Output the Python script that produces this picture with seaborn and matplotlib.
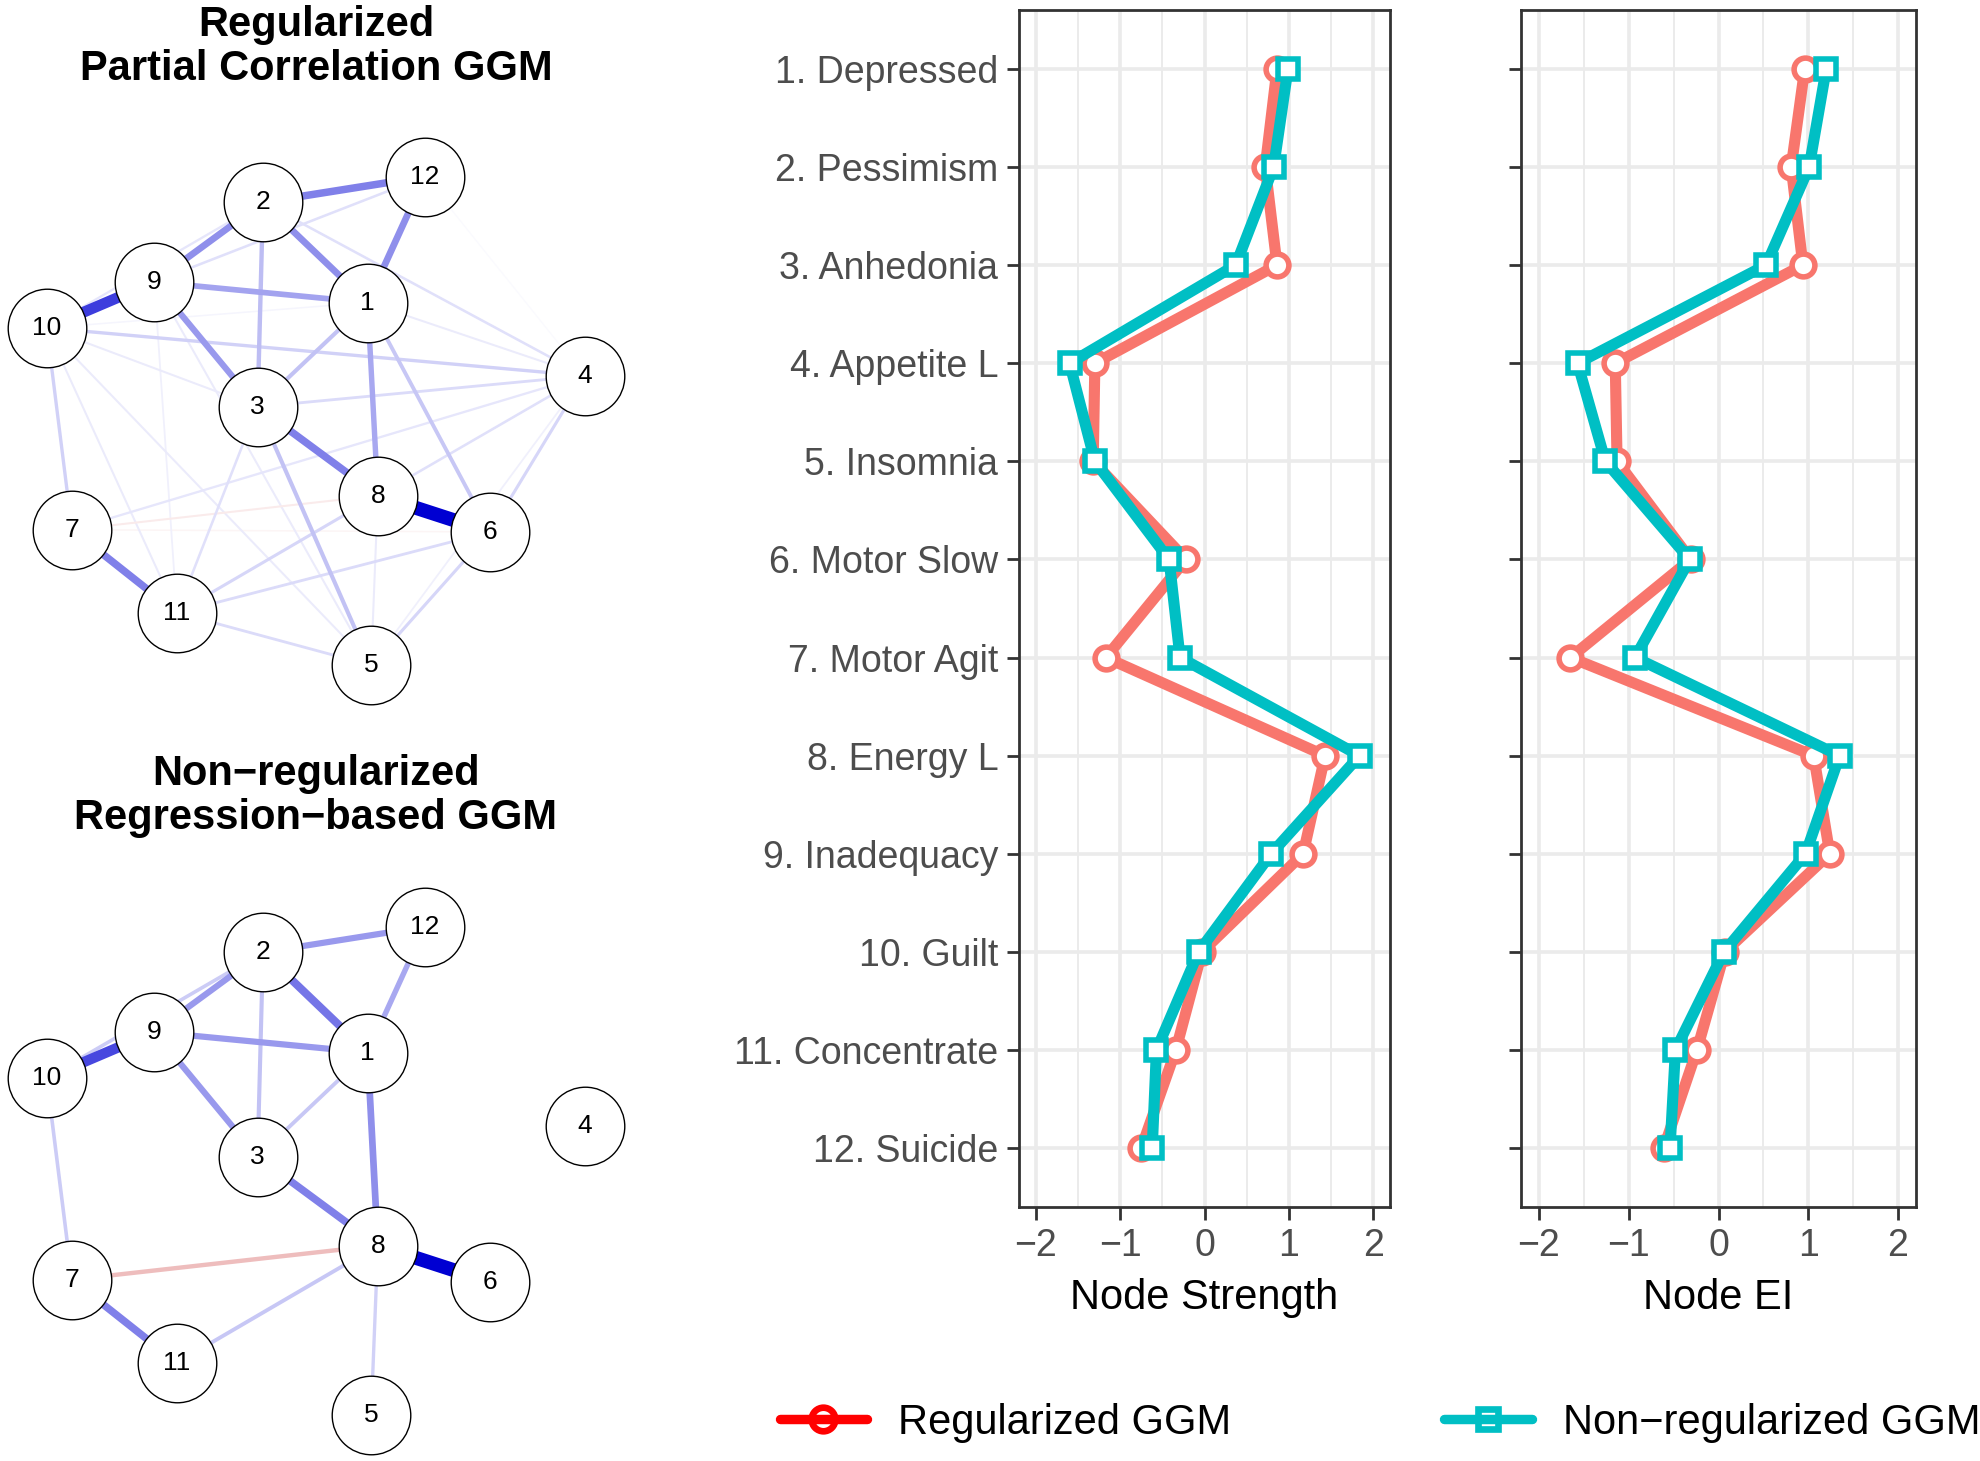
import numpy as np
import pandas as pd
import matplotlib
matplotlib.use("Agg")
import matplotlib.pyplot as plt
from matplotlib.lines import Line2D
from matplotlib.legend_handler import HandlerTuple
import seaborn as sns

# ---------------- data ----------------
symptoms = ["1. Depressed", "2. Pessimism", "3. Anhedonia", "4. Appetite L",
            "5. Insomnia", "6. Motor Slow", "7. Motor Agit", "8. Energy L",
            "9. Inadequacy", "10. Guilt", "11. Concentrate", "12. Suicide"]
model_labels = ["Regularized GGM", "Non\u2212regularized GGM"]

strength_reg = [0.86, 0.72, 0.86, -1.30, -1.32, -0.22, -1.17, 1.43, 1.17, -0.03, -0.34, -0.75]
strength_non = [0.99, 0.82, 0.37, -1.60, -1.30, -0.42, -0.29, 1.84, 0.79, -0.07, -0.57, -0.62]
ei_reg = [0.96, 0.81, 0.94, -1.15, -1.13, -0.31, -1.65, 1.06, 1.24, 0.07, -0.24, -0.61]
ei_non = [1.20, 1.01, 0.53, -1.57, -1.26, -0.32, -0.93, 1.35, 0.97, 0.06, -0.48, -0.54]
x_ticks = [-2, -1, 0, 1, 2]

# network layout (shared by both graphs), nodes 1..12
node_ids = list(range(1, 13))
layout_x = [0.193, -0.196, -0.216, 1.000, 0.206, 0.648, -0.906, 0.231, -0.600, -1.000, -0.516, 0.406]
layout_y = [0.485, 0.895, 0.058, 0.185, -1.000, -0.454, -0.445, -0.305, 0.569, 0.381, -0.785, 1.000]

# regularized partial correlation network edges
reg_from = [8, 10, 2, 12, 2, 9, 9, 9, 3, 7, 1, 2, 1, 1, 3, 10, 3, 4, 6, 2, 1, 12, 4, 4,
            11, 11, 11, 11, 11, 10, 10, 10, 10, 8, 7, 7, 12, 10, 10, 4, 9]
reg_to = [6, 9, 12, 1, 1, 2, 1, 3, 8, 11, 8, 3, 3, 6, 5, 4, 4, 6, 5, 4, 4, 4, 8, 7,
          6, 8, 5, 3, 9, 7, 11, 5, 3, 5, 8, 6, 9, 2, 1, 5, 5]
reg_w = [0.50, 0.38, 0.25, 0.22, 0.22, 0.22, 0.18, 0.20, 0.25, 0.25, 0.17, 0.13, 0.12,
         0.11, 0.12, 0.09, 0.07, 0.08, 0.08, 0.06, 0.04, 0.01, 0.06, 0.05,
         0.07, 0.08, 0.07, 0.06, 0.03, 0.09, 0.04, 0.04, 0.04, 0.04, -0.04, -0.02,
         0.06, 0.05, 0.02, 0.03, 0.04]

# non-regularized regression-based network edges
non_from = [8, 10, 2, 2, 12, 9, 10, 9, 9, 2, 1, 1, 3, 7, 10, 7, 11, 8]
non_to = [6, 9, 1, 12, 1, 2, 2, 1, 3, 3, 3, 8, 8, 11, 7, 8, 8, 5]
non_w = [0.50, 0.36, 0.27, 0.20, 0.17, 0.20, 0.10, 0.20, 0.20, 0.12, 0.11, 0.22, 0.25,
         0.25, 0.10, -0.13, 0.11, 0.09]

# ---------------- style ----------------
sns.set_style("white")
plt.rcParams["font.family"] = ["Liberation Sans", "DejaVu Sans"]
plt.rcParams["text.color"] = "black"

W, H, DPI = 1980, 1461, 200
PT = DPI / 72.0
fig = plt.figure(figsize=(W / DPI, H / DPI), dpi=DPI)
fig.patch.set_facecolor("white")


def px_axes(x0, y0, x1, y1):
    return fig.add_axes([x0 / W, 1 - y1 / H, (x1 - x0) / W, (y1 - y0) / H])


RED = "#F8766D"
TEAL = "#00BFC4"
POS = np.array([0, 0, 210]) / 255.0
NEG = np.array([191, 0, 0]) / 255.0


def edge_color(w):
    t = min(abs(w) / 0.5, 1.0)
    base = POS if w > 0 else NEG
    return tuple(1 - t * (1 - base))


def draw_network(box, cy, src, dst, wts):
    ax = px_axes(*box)
    cx, sx, sy = 315.7, 269.0, 244.3
    x0, y0, x1, y1 = box
    ax.set_xlim((x0 - cx) / sx, (x1 - cx) / sx)
    ax.set_ylim((cy - y1) / sy, (cy - y0) / sy)
    ax.axis("off")
    order = np.argsort(np.abs(wts))
    for k in order:
        a, b, w = src[k] - 1, dst[k] - 1, wts[k]
        ax.plot([layout_x[a], layout_x[b]], [layout_y[a], layout_y[b]],
                color=edge_color(w), lw=(1 + 26 * abs(w)) / PT,
                solid_capstyle="butt", zorder=1)
    sns.scatterplot(x=layout_x, y=layout_y, s=800, color="white",
                    edgecolor="black", linewidth=0.5, ax=ax, zorder=3, legend=False)
    for i, n in enumerate(node_ids):
        ax.text(layout_x[i], layout_y[i], str(n), ha="center", va="center",
                fontsize=9.5, color="black", zorder=4)
    return ax


draw_network((0, 110, 640, 720), 421.0, reg_from, reg_to, reg_w)
draw_network((0, 860, 640, 1461), 1171.0, non_from, non_to, non_w)

fig.text(316 / W, 1 - 47 / H, "Regularized\nPartial Correlation GGM", ha="center",
         va="center", fontsize=15, fontweight="bold", linespacing=1.15, color="black")
fig.text(316 / W, 1 - 796 / H, "Non\u2212regularized\nRegression\u2212based GGM",
         ha="center", va="center", fontsize=15, fontweight="bold", linespacing=1.15,
         color="black")

# ---------------- centrality panels ----------------
idx = list(range(1, 13))


def centrality_panel(box, reg, non, xlabel, show_labels):
    ax = px_axes(*box)
    df = pd.DataFrame({
        "idx": idx + idx,
        "value": list(reg) + list(non),
        "model": [model_labels[0]] * 12 + [model_labels[1]] * 12,
    })
    sns.lineplot(data=df, x="value", y="idx", hue="model", style="model",
                 markers=["o", "s"], dashes=False, sort=False, estimator=None,
                 orient="y", palette=[RED, TEAL], linewidth=4.0, markersize=8.2,
                 markeredgewidth=2.0, markerfacecolor="white", ax=ax, legend=False)
    for ln in ax.lines:
        ln.set_markeredgecolor(ln.get_color())
        if ln.get_marker() == "s":
            ln.set_markersize(7.3)
    ax.set_xlim(-2.2, 2.2)
    ax.set_ylim(12.6, 0.4)
    ax.set_xticks(x_ticks)
    ax.set_xticklabels([str(v).replace("-", "\u2212") for v in x_ticks])
    ax.set_xticks([-1.5, -0.5, 0.5, 1.5], minor=True)
    ax.set_yticks(idx)
    ax.set_yticklabels(symptoms if show_labels else [""] * 12)
    ax.set_axisbelow(True)
    ax.grid(which="major", color="#EBEBEB", lw=1.3)
    ax.grid(which="minor", axis="x", color="#EBEBEB", lw=0.7)
    for sp in ax.spines.values():
        sp.set_visible(True)
        sp.set_color("#333333")
        sp.set_linewidth(1.0)
    ax.tick_params(which="major", direction="out", length=4.5, width=1.0,
                   color="#333333", labelcolor="#4D4D4D", labelsize=13.5, pad=3,
                   left=True, bottom=True)
    ax.tick_params(which="minor", length=0)
    ax.set_xlabel(xlabel, fontsize=15, color="black", labelpad=5)
    ax.set_ylabel("")
    return ax


centrality_panel((1019, 10, 1390, 1207), strength_reg, strength_non, "Node Strength", True)
centrality_panel((1521, 10, 1916, 1207), ei_reg, ei_non, "Node EI", False)

# ---------------- legend ----------------
handles = []
for col, mk, ms in [("#FF0000", "o", 8.5), (TEAL, "s", 7.5)]:
    m = Line2D([], [], color=col, lw=0, marker=mk, markersize=ms,
               markerfacecolor="white", markeredgecolor=col, markeredgewidth=2.4)
    l = Line2D([], [], color=col, lw=3.4, solid_capstyle="round")
    handles.append((m, l))
fig.legend(handles, model_labels, handler_map={tuple: HandlerTuple(ndivide=1)},
           loc="center", bbox_to_anchor=(1380 / W, 1 - 1423 / H), ncol=2,
           frameon=False, fontsize=15, handlelength=2.1, handletextpad=0.75,
           columnspacing=5.1)

fig.savefig("out.png", dpi=DPI, facecolor="white")
